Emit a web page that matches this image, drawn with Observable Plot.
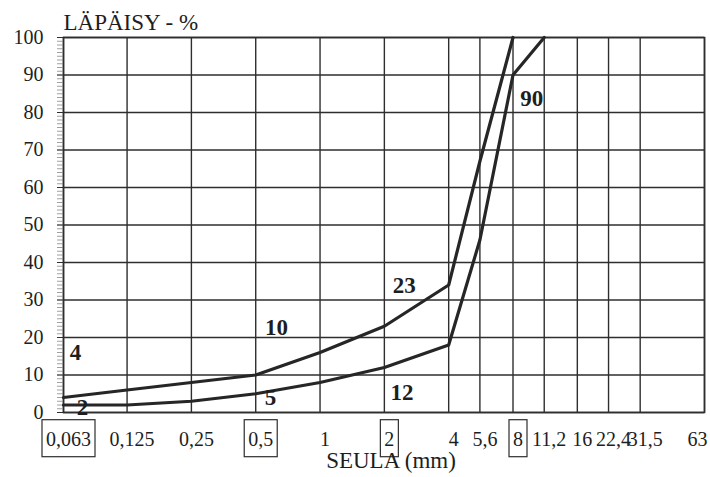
<!DOCTYPE html>
<html><head><meta charset="utf-8">
<script src="https://cdn.jsdelivr.net/npm/d3@7"></script>
<script src="https://cdn.jsdelivr.net/npm/@observablehq/plot@0.6"></script>
<style>body{margin:0;background:#fff} svg text{font-family:'Liberation Serif','Times New Roman',serif}</style>
</head><body><div id="chart"></div>
<script>
// Sieve sizes (mm) on the x axis
const sieves = [0.063, 0.125, 0.25, 0.5, 1, 2, 4, 5.6, 8, 11.2, 16, 22.4, 31.5, 63];
const boxedSieves = [0.063, 0.5, 2, 8];
// Upper limit curve (passing %)
const upperSieves = [0.063, 0.125, 0.25, 0.5, 1, 2, 4, 5.6, 8];
const upperPass   = [4, 6, 8, 10, 16, 23, 34, 67, 100];
// Lower limit curve (passing %)
const lowerSieves = [0.063, 0.125, 0.25, 0.5, 1, 2, 4, 5.6, 8, 11.2];
const lowerPass   = [2, 2, 3, 5, 8, 12, 18, 46, 90, 100];
// Y ticks
const yTicks = d3.range(0, 101, 10);
const yMinor = d3.range(0, 101, 1);
// Annotations (value text, placed near its curve)
const labelText  = ["4", "2", "10", "5", "23", "12", "90"];
const labelSieve = [0.0717, 0.0773, 0.626, 0.587, 2.48, 2.42, 9.8];
const labelPass  = [16, 1.3, 22.7, 4, 33.9, 5.3, 83.7];

const curves = [
  ...upperSieves.map((s, i) => ({curve: "upper", sieve: s, pass: upperPass[i]})),
  ...lowerSieves.map((s, i) => ({curve: "lower", sieve: s, pass: lowerPass[i]}))
];
const labels = labelText.map((t, i) => ({text: t, sieve: labelSieve[i], pass: labelPass[i]}));
const fmt = d => String(d).replace(".", ",");
const serif = "Liberation Serif, Times New Roman, serif";
const last = sieves.length - 1;

const chart = Plot.plot({
  width: 710, height: 477,
  marginTop: 37, marginLeft: 63, marginRight: 6, marginBottom: 65,
  style: {fontFamily: serif, background: "#fff", color: "#1e1e1e", overflow: "visible"},
  x: {type: "log", domain: [0.063, 63], label: null, axis: null},
  y: {domain: [0, 100], label: null, axis: null},
  marks: [
    Plot.gridX(sieves, {stroke: "#2e2e2e", strokeOpacity: 1, strokeWidth: 1.4}),
    Plot.gridY(yTicks, {stroke: "#2e2e2e", strokeOpacity: 1, strokeWidth: 1.4}),
    Plot.frame({stroke: "#2e2e2e", strokeWidth: 1.6}),
    Plot.axisY(yMinor, {tickSize: 6, tickFormat: () => "", stroke: "#888", strokeWidth: 0.8, label: null}),
    Plot.axisY(yTicks, {tickSize: 6, tickPadding: 14, fontSize: 20, fontFamily: serif, stroke: "#2e2e2e", label: null}),
    Plot.text(sieves, {filter: (d, i) => i < last, x: d => d, text: fmt, frameAnchor: "bottom", lineAnchor: "top",
      dy: 19, dx: 5, fontSize: 20, fontFamily: serif, fill: "#1e1e1e"}),
    Plot.text(sieves, {filter: (d, i) => i === last, x: d => d, text: fmt, frameAnchor: "bottom", lineAnchor: "top",
      dy: 19, dx: -7, fontSize: 20, fontFamily: serif, fill: "#1e1e1e"}),
    Plot.line(curves, {x: "sieve", y: "pass", z: "curve", stroke: "#262626", strokeWidth: 3.2}),
    Plot.text(labels, {x: "sieve", y: "pass", text: "text", fontSize: 23, fontWeight: "bold", fontFamily: serif, fill: "#1e1e1e"}),
    Plot.text(["LÄPÄISY - %"], {frameAnchor: "top-left", textAnchor: "start", lineAnchor: "bottom", dy: -8,
      fontSize: 23, fontFamily: serif, fill: "#1e1e1e"}),
    Plot.text(["SEULA (mm)"], {frameAnchor: "bottom", lineAnchor: "bottom", dx: 7, dy: 55,
      fontSize: 23, fontFamily: serif, fill: "#1e1e1e"})
  ]
});
document.getElementById("chart").append(chart);

// Boxes around selected sieve labels (first text mark group)
const boxedSet = new Set(boxedSieves.map(fmt));
const sieveGroup = chart.querySelector('g[aria-label="text"]');
d3.select(sieveGroup).selectAll("text").each(function() {
  if (!boxedSet.has(this.textContent)) return;
  const b = this.getBBox();
  const tr = this.getAttribute("transform");
  const r = document.createElementNS("http://www.w3.org/2000/svg", "rect");
  r.setAttribute("x", b.x - 4);
  r.setAttribute("y", b.y - 8);
  r.setAttribute("width", b.width + 8);
  r.setAttribute("height", b.height + 15);
  r.setAttribute("fill", "none");
  r.setAttribute("stroke", "#2e2e2e");
  r.setAttribute("stroke-width", 1.2);
  if (tr) r.setAttribute("transform", tr);
  this.parentNode.insertBefore(r, this);
});
</script>
</body></html>
